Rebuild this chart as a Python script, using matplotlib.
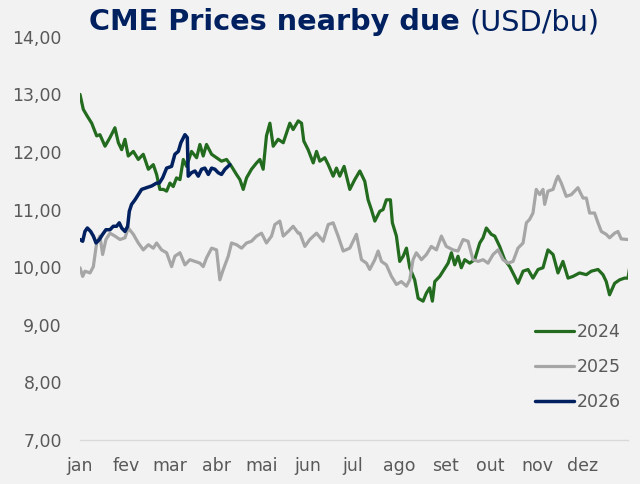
import matplotlib
matplotlib.use("Agg")
import matplotlib.pyplot as plt

# day of year / price
days_2024 = [0, 2.2, 4.9, 7.8, 11.1, 13.3, 16.7, 20, 23.3, 25.6, 27.8, 30, 32.2, 35.6, 38.9,
             42.2, 45.6, 48.9, 51.1, 53.3, 55.6, 57.8, 60, 62.2, 64.4, 66.7, 68.9, 71.1, 74.4,
             77.8, 80, 82.2, 84.4, 87.8, 91.1, 94.4, 97.8, 101.1, 104.4, 106.7, 108.9, 111.1,
             114.4, 117.8, 120, 122.2, 124.4, 126.7, 128.9, 132.2, 135.6, 140, 142.2, 145.6,
             147.8, 149.3, 152.2, 155.6, 157.8, 160, 163.3, 165.6, 168.9, 171.1, 173.3, 176.2,
             180, 183.3, 186.7, 190, 192.2, 194.4, 196.7, 200, 202.2, 204.4, 207.1, 208.4,
             211.1, 213.3, 215.6, 217.8, 220, 223.3, 225.6, 228.9, 231.1, 233.3, 235.1, 236.7,
             240, 242.2, 245.6, 247.8, 250, 252.2, 254.4, 256.7, 260, 263.3, 266.7, 268.9,
             271.1, 274.4, 276.7, 280, 283.3, 286.7, 290, 292.2, 295.6, 298.9, 302.2, 305.6,
             308.9, 312.2, 315.6, 318.9, 322.2, 325.6, 328.9, 333.3, 337.8, 341.1, 345.6,
             348.9, 351.1, 353.3, 356.7, 360, 363.3, 365.6, 366.7]
vals_2024 = [13.0, 12.74, 12.62, 12.5, 12.28, 12.3, 12.1, 12.25, 12.42, 12.16, 12.04, 12.22,
             11.93, 12.01, 11.87, 11.96, 11.7, 11.78, 11.61, 11.35, 11.35, 11.32, 11.46, 11.4,
             11.55, 11.52, 11.87, 11.75, 12.01, 11.9, 12.13, 11.93, 12.13, 11.96, 11.9, 11.84,
             11.87, 11.75, 11.61, 11.52, 11.35, 11.55, 11.7, 11.81, 11.87, 11.7, 12.28, 12.5,
             12.1, 12.22, 12.16, 12.5, 12.39, 12.54, 12.5, 12.19, 12.04, 11.81, 12.01, 11.84,
             11.9, 11.78, 11.58, 11.72, 11.58, 11.75, 11.35, 11.52, 11.67, 11.49, 11.17, 11.0,
             10.8, 10.97, 11.0, 11.17, 11.17, 10.77, 10.54, 10.1, 10.19, 10.33, 9.99, 9.78,
             9.46, 9.41, 9.55, 9.64, 9.41, 9.75, 9.84, 9.93, 10.07, 10.25, 10.04, 10.19, 9.99,
             10.13, 10.07, 10.13, 10.42, 10.51, 10.68, 10.57, 10.54, 10.36, 10.13, 10.01, 9.84,
             9.72, 9.93, 9.96, 9.81, 9.96, 9.99, 10.3, 10.22, 9.9, 10.1, 9.81, 9.84, 9.9, 9.87,
             9.93, 9.96, 9.87, 9.75, 9.52, 9.72, 9.78, 9.81, 9.81, 9.99]

days_2025 = [0, 1.8, 3.3, 6.7, 8.9, 11.1, 13.3, 15.1, 17.3, 20, 23.3, 26.7, 30, 32.2, 35.6,
             38.9, 42.2, 45.6, 48.9, 51.1, 54.4, 57.8, 61.1, 63.3, 66.7, 70, 73.3, 76.7, 80,
             82.2, 84.4, 87.8, 91.1, 93.3, 95.6, 98.9, 101.1, 104.4, 107.8, 111.1, 114.4,
             117.8, 121.1, 124.4, 127.8, 130, 133.3, 135.6, 138.9, 142.2, 145.6, 146.7, 150,
             153.3, 157.8, 162.2, 165.6, 168.9, 172.2, 175.6, 180, 184.4, 187.8, 191.1, 193.3,
             196.7, 198.9, 201.1, 204.4, 207.8, 211.1, 214.4, 217.8, 220, 222.2, 224.4, 227.8,
             231.1, 234.4, 237.8, 241.1, 244.4, 248.9, 252.2, 255.6, 258.9, 262.2, 265.6,
             268.9, 272.2, 275.6, 278.9, 282.2, 285.6, 288.9, 292.2, 295.6, 297.8, 300, 302.2,
             304.4, 306.7, 308.9, 310, 312.2, 315.6, 317.8, 318.9, 321.1, 324.4, 327.8, 332.2,
             335.6, 337.8, 340, 343.3, 345.6, 347.8, 351.1, 353.3, 356.7, 358.9, 361.1, 365.6]
vals_2025 = [9.99, 9.84, 9.93, 9.9, 10.01, 10.42, 10.54, 10.22, 10.48, 10.59, 10.54, 10.48,
             10.51, 10.68, 10.57, 10.42, 10.3, 10.39, 10.33, 10.42, 10.3, 10.25, 10.01, 10.19,
             10.25, 10.04, 10.13, 10.1, 10.07, 10.01, 10.16, 10.33, 10.3, 9.78, 9.96, 10.19,
             10.42, 10.39, 10.33, 10.42, 10.45, 10.54, 10.59, 10.42, 10.54, 10.74, 10.8, 10.54,
             10.62, 10.71, 10.59, 10.59, 10.36, 10.48, 10.59, 10.45, 10.74, 10.77, 10.54,
             10.28, 10.33, 10.57, 10.13, 10.07, 9.96, 10.13, 10.28, 10.1, 10.04, 9.84, 9.7,
             9.75, 9.67, 9.78, 10.13, 10.25, 10.13, 10.22, 10.36, 10.3, 10.54, 10.36, 10.3,
             10.28, 10.48, 10.45, 10.13, 10.1, 10.13, 10.07, 10.22, 10.3, 10.13, 10.07, 10.1,
             10.33, 10.42, 10.77, 10.83, 10.94, 11.35, 11.26, 11.35, 11.09, 11.32, 11.35,
             11.52, 11.58, 11.46, 11.23, 11.26, 11.38, 11.2, 11.2, 10.94, 10.94, 10.77, 10.62,
             10.57, 10.51, 10.59, 10.62, 10.49, 10.48]

days_2026 = [0, 1.8, 3.3, 4.9, 7.1, 8.9, 10.7, 12.9, 15.1, 17.3, 20, 22.2, 24.4, 26.2, 27.8,
             30, 31.8, 32.9, 34.4, 36.7, 38.9, 41.1, 44.4, 47.8, 51.1, 52.9, 55.1, 57.8, 61.1,
             63.3, 65.6, 67.3, 70, 71.6, 72.2, 74.4, 76.7, 78.9, 81.1, 83.3, 85.6, 87.8, 90,
             92.2, 94.4, 96.7, 100]
vals_2026 = [10.48, 10.45, 10.62, 10.68, 10.62, 10.54, 10.42, 10.48, 10.57, 10.65, 10.65,
             10.71, 10.71, 10.77, 10.68, 10.62, 10.71, 10.97, 11.09, 11.17, 11.26, 11.35,
             11.38, 11.41, 11.46, 11.46, 11.55, 11.72, 11.75, 11.96, 12.01, 12.16, 12.3, 12.25,
             11.58, 11.64, 11.67, 11.58, 11.7, 11.72, 11.61, 11.72, 11.7, 11.64, 11.61, 11.7,
             11.78]

month_days = [0, 31, 60, 91, 121, 152, 182, 213, 244, 274, 305, 335]
month_labels = ["jan", "fev", "mar", "abr", "mai", "jun", "jul", "ago", "set", "out", "nov", "dez"]
y_ticks = [7, 8, 9, 10, 11, 12, 13, 14]

bg = "#F2F2F2"
txt = "#595959"
navy = "#002060"
plt.rcParams["font.family"] = ["DejaVu Sans"]

fig = plt.figure(figsize=(6.4, 4.84), dpi=100, facecolor=bg)
ax = fig.add_axes([0.125, 0.091, 0.856, 0.833], facecolor=bg)

ax.plot(days_2024, vals_2024, color="#236B1E", lw=2.3, label="2024", solid_capstyle="round")
ax.plot(days_2025, vals_2025, color="#A6A6A6", lw=2.3, label="2025", solid_capstyle="round")
ax.plot(days_2026, vals_2026, color=navy, lw=2.5, label="2026", solid_capstyle="round")

ax.set_xlim(0, 365.5)
ax.set_ylim(7, 14)
ax.set_yticks(y_ticks)
ax.set_yticklabels([f"{v:.2f}".replace(".", ",") for v in y_ticks])
ax.set_xticks(month_days)
ax.set_xticklabels(month_labels)
ax.tick_params(axis="y", length=0, pad=13, labelsize=12.5, labelcolor=txt)
ax.tick_params(axis="x", length=0, pad=12, labelsize=12.5, labelcolor=txt)
for s in ["top", "right", "left"]:
    ax.spines[s].set_visible(False)
ax.spines["bottom"].set_color("#D9D9D9")
ax.spines["bottom"].set_linewidth(1)

leg = ax.legend(loc="lower right", bbox_to_anchor=(1.0, 0.055), frameon=False, fontsize=12.5,
                handlelength=2.25, handletextpad=0.15, labelspacing=0.98, borderaxespad=0)
for t in leg.get_texts():
    t.set_color(txt)

# title: bold part + normal part
t1 = fig.text(0.139, 0.938, "CME Prices nearby due", fontsize=20.7, fontweight="bold",
              color=navy, va="baseline", ha="left")
fig.canvas.draw()
bb = t1.get_window_extent()
x2 = (bb.x1 + 10) / fig.bbox.width
fig.text(x2, 0.938, "(USD/bu)", fontsize=20.7, color=navy, va="baseline", ha="left")

fig.savefig("out.png", dpi=100, facecolor=bg)
